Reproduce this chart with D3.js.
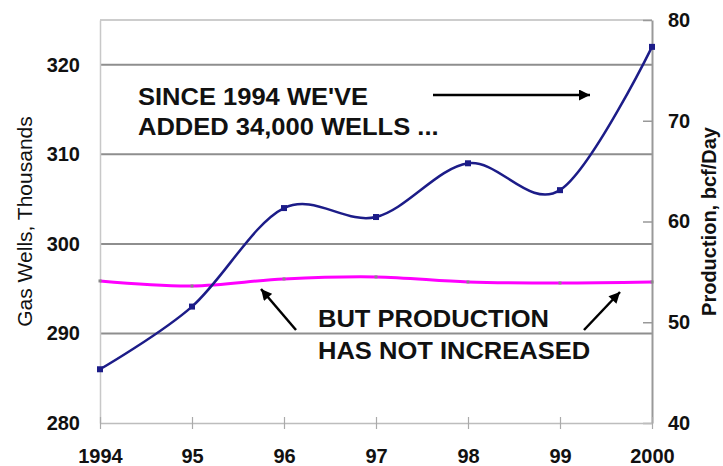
<!DOCTYPE html>
<html>
<head>
<meta charset="utf-8">
<script src="https://cdn.jsdelivr.net/npm/d3@7"></script>
<style>
  body { margin: 0; background: #fff; }
  svg text { font-family: "Liberation Sans", Arial, sans-serif; }
</style>
</head>
<body>
<div id="chart"></div>
<script>
var years = [1994, 1995, 1996, 1997, 1998, 1999, 2000];
var yearLabels = ['1994', '95', '96', '97', '98', '99', '2000'];
var wells = [286, 293, 304, 303, 309, 306, 322];          // thousands
var production = [54.1, 53.6, 54.3, 54.5, 54.0, 53.9, 54.0]; // bcf/day
var wellTicks = [280, 290, 300, 310, 320];
var prodTicks = [40, 50, 60, 70, 80];

var w = 723, h = 466;
var plotLeft = 100, plotRight = 652, plotTop = 20, plotBottom = 423;

var svg = d3.select('#chart').append('svg')
    .attr('width', w).attr('height', h);

var x = d3.scaleLinear().domain([1994, 2000]).range([plotLeft, plotRight]);
var yL = d3.scaleLinear().domain([280, 325]).range([plotBottom, plotTop]);
var yR = d3.scaleLinear().domain([40, 80]).range([plotBottom, plotTop]);

// arrow head
svg.append('defs').append('marker')
    .attr('id', 'head')
    .attr('viewBox', '0 0 10 10')
    .attr('refX', 10).attr('refY', 5)
    .attr('markerUnits', 'userSpaceOnUse')
    .attr('markerWidth', 12).attr('markerHeight', 11)
    .attr('orient', 'auto')
  .append('path')
    .attr('d', 'M0,0 L10,5 L0,10 Z')
    .attr('fill', '#000');

// top border
svg.append('line')
    .attr('x1', plotLeft).attr('x2', plotRight)
    .attr('y1', plotTop).attr('y2', plotTop)
    .attr('stroke', '#bdbdbd').attr('stroke-width', 1.5);

// gridlines
svg.selectAll('.grid')
    .data(wellTicks.filter(function (d) { return d > 280; }))
    .enter().append('line')
    .attr('class', 'grid')
    .attr('x1', plotLeft).attr('x2', plotRight)
    .attr('y1', function (d) { return yL(d); })
    .attr('y2', function (d) { return yL(d); })
    .attr('stroke', '#8e8e8e').attr('stroke-width', 2);

// left axis
var gL = svg.append('g')
    .attr('transform', 'translate(' + plotLeft + ',0)')
    .call(d3.axisLeft(yL).tickValues(wellTicks).tickSize(0).tickPadding(20));
gL.select('.domain').attr('stroke', '#c8c8c8').attr('stroke-width', 1.5);
gL.selectAll('text')
    .attr('font-size', 20).attr('font-weight', 'bold').attr('fill', '#111');

// right axis
var gR = svg.append('g')
    .attr('transform', 'translate(' + plotRight + ',0)')
    .call(d3.axisRight(yR).tickValues(prodTicks).tickSizeInner(-9).tickSizeOuter(0).tickPadding(16));
gR.select('.domain').attr('stroke', '#999').attr('stroke-width', 2);
gR.selectAll('.tick line').attr('stroke', '#999').attr('stroke-width', 1.5);
gR.selectAll('text')
    .attr('font-size', 20).attr('font-weight', 'bold').attr('fill', '#111');

// bottom axis
var gB = svg.append('g')
    .attr('transform', 'translate(0,' + plotBottom + ')')
    .call(d3.axisBottom(x).tickValues(years)
      .tickFormat(function (d, i) { return yearLabels[i]; })
      .tickSizeInner(6).tickSizeOuter(0).tickPadding(20));
gB.select('.domain').attr('stroke', '#bdbdbd').attr('stroke-width', 1.5);
gB.selectAll('.tick line').attr('y1', -6).attr('stroke', '#aaa').attr('stroke-width', 1.2);
gB.selectAll('text')
    .attr('font-size', 20).attr('font-weight', 'bold').attr('fill', '#111');

// axis titles
svg.append('text')
    .attr('transform', 'translate(32,' + ((plotTop + plotBottom) / 2) + ') rotate(-90)')
    .attr('text-anchor', 'middle')
    .attr('font-size', 21)
    .attr('fill', '#111')
    .text('Gas Wells, Thousands');

svg.append('text')
    .attr('transform', 'translate(716,' + ((plotTop + plotBottom) / 2) + ') rotate(-90)')
    .attr('text-anchor', 'middle')
    .attr('font-size', 20)
    .attr('font-weight', 'bold')
    .attr('fill', '#111')
    .text('Production, bcf/Day');

// production line (right scale)
var prodLine = d3.line()
    .x(function (d, i) { return x(years[i]); })
    .y(function (d) { return yR(d); })
    .curve(d3.curveCardinal.tension(0));

svg.append('path')
    .datum(production)
    .attr('d', prodLine)
    .attr('fill', 'none')
    .attr('stroke', '#ff00ff')
    .attr('stroke-width', 3);

svg.selectAll('.pdot')
    .data(production)
    .enter().append('rect')
    .attr('class', 'pdot')
    .attr('x', function (d, i) { return x(years[i]) - 1.5; })
    .attr('y', function (d) { return yR(d) - 1.5; })
    .attr('width', 3).attr('height', 3)
    .attr('fill', '#888');

// wells line (left scale)
var wellLine = d3.line()
    .x(function (d, i) { return x(years[i]); })
    .y(function (d) { return yL(d); })
    .curve(d3.curveCardinal.tension(0));

svg.append('path')
    .datum(wells)
    .attr('d', wellLine)
    .attr('fill', 'none')
    .attr('stroke', '#1c1c88')
    .attr('stroke-width', 2.5);

svg.selectAll('.wdot')
    .data(wells)
    .enter().append('rect')
    .attr('class', 'wdot')
    .attr('x', function (d, i) { return x(years[i]) - 3; })
    .attr('y', function (d) { return yL(d) - 3; })
    .attr('width', 6).attr('height', 6)
    .attr('fill', '#1c1c88');

// annotations (stretched a bit wider, like the original)
function note(px, lines) {
  var g = svg.append('g').attr('transform', 'translate(' + px + ',0) scale(1.11,1)');
  g.selectAll('text')
    .data(lines)
    .enter().append('text')
    .attr('x', 0)
    .attr('y', function (d) { return d[1]; })
    .attr('font-size', 23)
    .attr('font-weight', 'bold')
    .attr('fill', '#111')
    .text(function (d) { return d[0]; });
}
note(138, [["SINCE 1994 WE'VE", 105], ['ADDED 34,000 WELLS ...', 135]]);
note(318, [['BUT PRODUCTION', 327], ['HAS NOT INCREASED', 359]]);

var arrows = [
  [433, 95, 590, 95],
  [296, 330, 261, 289],
  [584, 330, 620, 292]
];
svg.selectAll('.arrow')
    .data(arrows)
    .enter().append('line')
    .attr('class', 'arrow')
    .attr('x1', function (d) { return d[0]; })
    .attr('y1', function (d) { return d[1]; })
    .attr('x2', function (d) { return d[2]; })
    .attr('y2', function (d) { return d[3]; })
    .attr('stroke', '#000')
    .attr('stroke-width', 2.5)
    .attr('marker-end', 'url(#head)');
</script>
</body>
</html>
